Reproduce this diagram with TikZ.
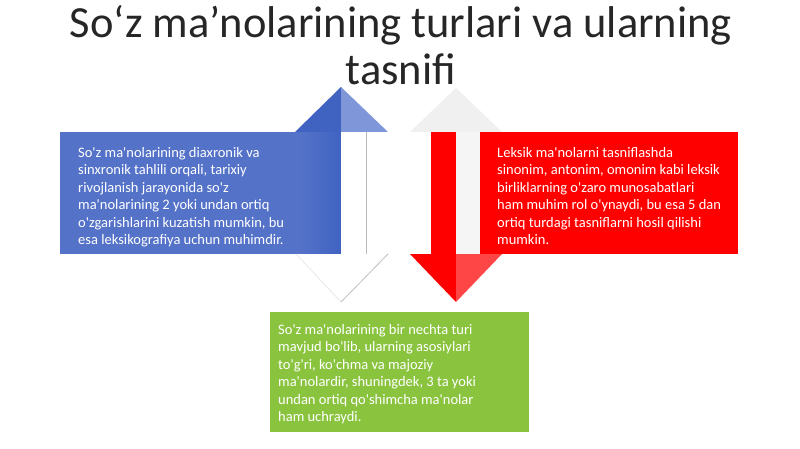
\documentclass[tikz,border=0pt]{standalone}
\usepackage{fontspec}
\setmainfont{Carlito}
\newcommand{\q}{\textquotesingle}
\definecolor{boxblue}{HTML}{5472C8}
\definecolor{darkblue}{HTML}{4063C2}
\definecolor{lightblue}{HTML}{7F97D9}
\definecolor{boxred}{HTML}{FF0000}
\definecolor{lightred}{HTML}{FF4646}
\definecolor{boxgreen}{HTML}{8AC43F}
\definecolor{titlegray}{HTML}{262626}
\definecolor{palegray}{HTML}{F0F0F0}
\begin{document}
\begin{tikzpicture}[x=1pt,y=-1pt,
  bodytext/.style={anchor=north west, inner sep=0pt, align=left, text=white,
    font=\fontsize{14.5}{17.5}\selectfont},
  titletext/.style={anchor=north, inner sep=0pt, align=center, text=titlegray,
    font=\fontsize{44.5}{47}\selectfont}]
\useasboundingbox[fill=white] (0,0) rectangle (800,449);

% ---- blue (left) arrow: up head blue, down head white ----
\fill[boxblue] (60,132) rectangle (300,254);
\shade[left color=boxblue, right color=darkblue] (300,132) rectangle (341,254);
\fill[white] (341,132) rectangle (366,254);
\draw[gray!55, line width=0.8pt] (366,132) -- (366,254);
\fill[darkblue] (295,132) -- (341,87) -- (341,132) -- cycle;
\fill[lightblue] (341,87) -- (388,132) -- (341,132) -- cycle;
\fill[white] (296,254) -- (341,302) -- (388,254) -- cycle;
\draw[gray!18, line width=0.8pt] (296,254) -- (341,302);
\draw[gray!50, line width=0.8pt] (341,302) -- (388,254);

% ---- red (right) arrow: down head red, up head pale ----
\fill[palegray] (410,132) -- (456,88) -- (502,132) -- cycle;
\fill[boxred] (431,132) rectangle (456,254);
\fill[gray!8] (456,132) rectangle (480,254);
\fill[boxred] (480,132) rectangle (738,254);
\fill[boxred] (410,254) -- (456,302) -- (456,254) -- cycle;
\fill[lightred] (456,254) -- (456,302) -- (502,254) -- cycle;

% ---- green box ----
\fill[boxgreen] (270,312) rectangle (529,432);

% ---- texts ----
\node[titletext] (title) at (401,5) {So‘z ma’nolarining turlari va ularning\\tasnifi};

\node[bodytext] (bluetext) at (78,147) {So\q z ma\q nolarining diaxronik va\\
sinxronik tahlili orqali, tarixiy\\
rivojlanish jarayonida so\q z\\
ma\q nolarining 2 yoki undan ortiq\\
o\q zgarishlarini kuzatish mumkin, bu\\
esa leksikografiya uchun muhimdir.};

\node[bodytext] (redtext) at (497,147) {Leksik ma\q nolarni tasniflashda\\
sinonim, antonim, omonim kabi leksik\\
birliklarning o\q zaro munosabatlari\\
ham muhim rol o\q ynaydi, bu esa 5 dan\\
ortiq turdagi tasniflarni hosil qilishi\\
mumkin.};

\node[bodytext] (greentext) at (278,324) {So\q z ma\q nolarining bir nechta turi\\
mavjud bo\q lib, ularning asosiylari\\
to\q g\q ri, ko\q chma va majoziy\\
ma\q nolardir, shuningdek, 3 ta yoki\\
undan ortiq qo\q shimcha ma\q nolar\\
ham uchraydi.};
\end{tikzpicture}
\end{document}
